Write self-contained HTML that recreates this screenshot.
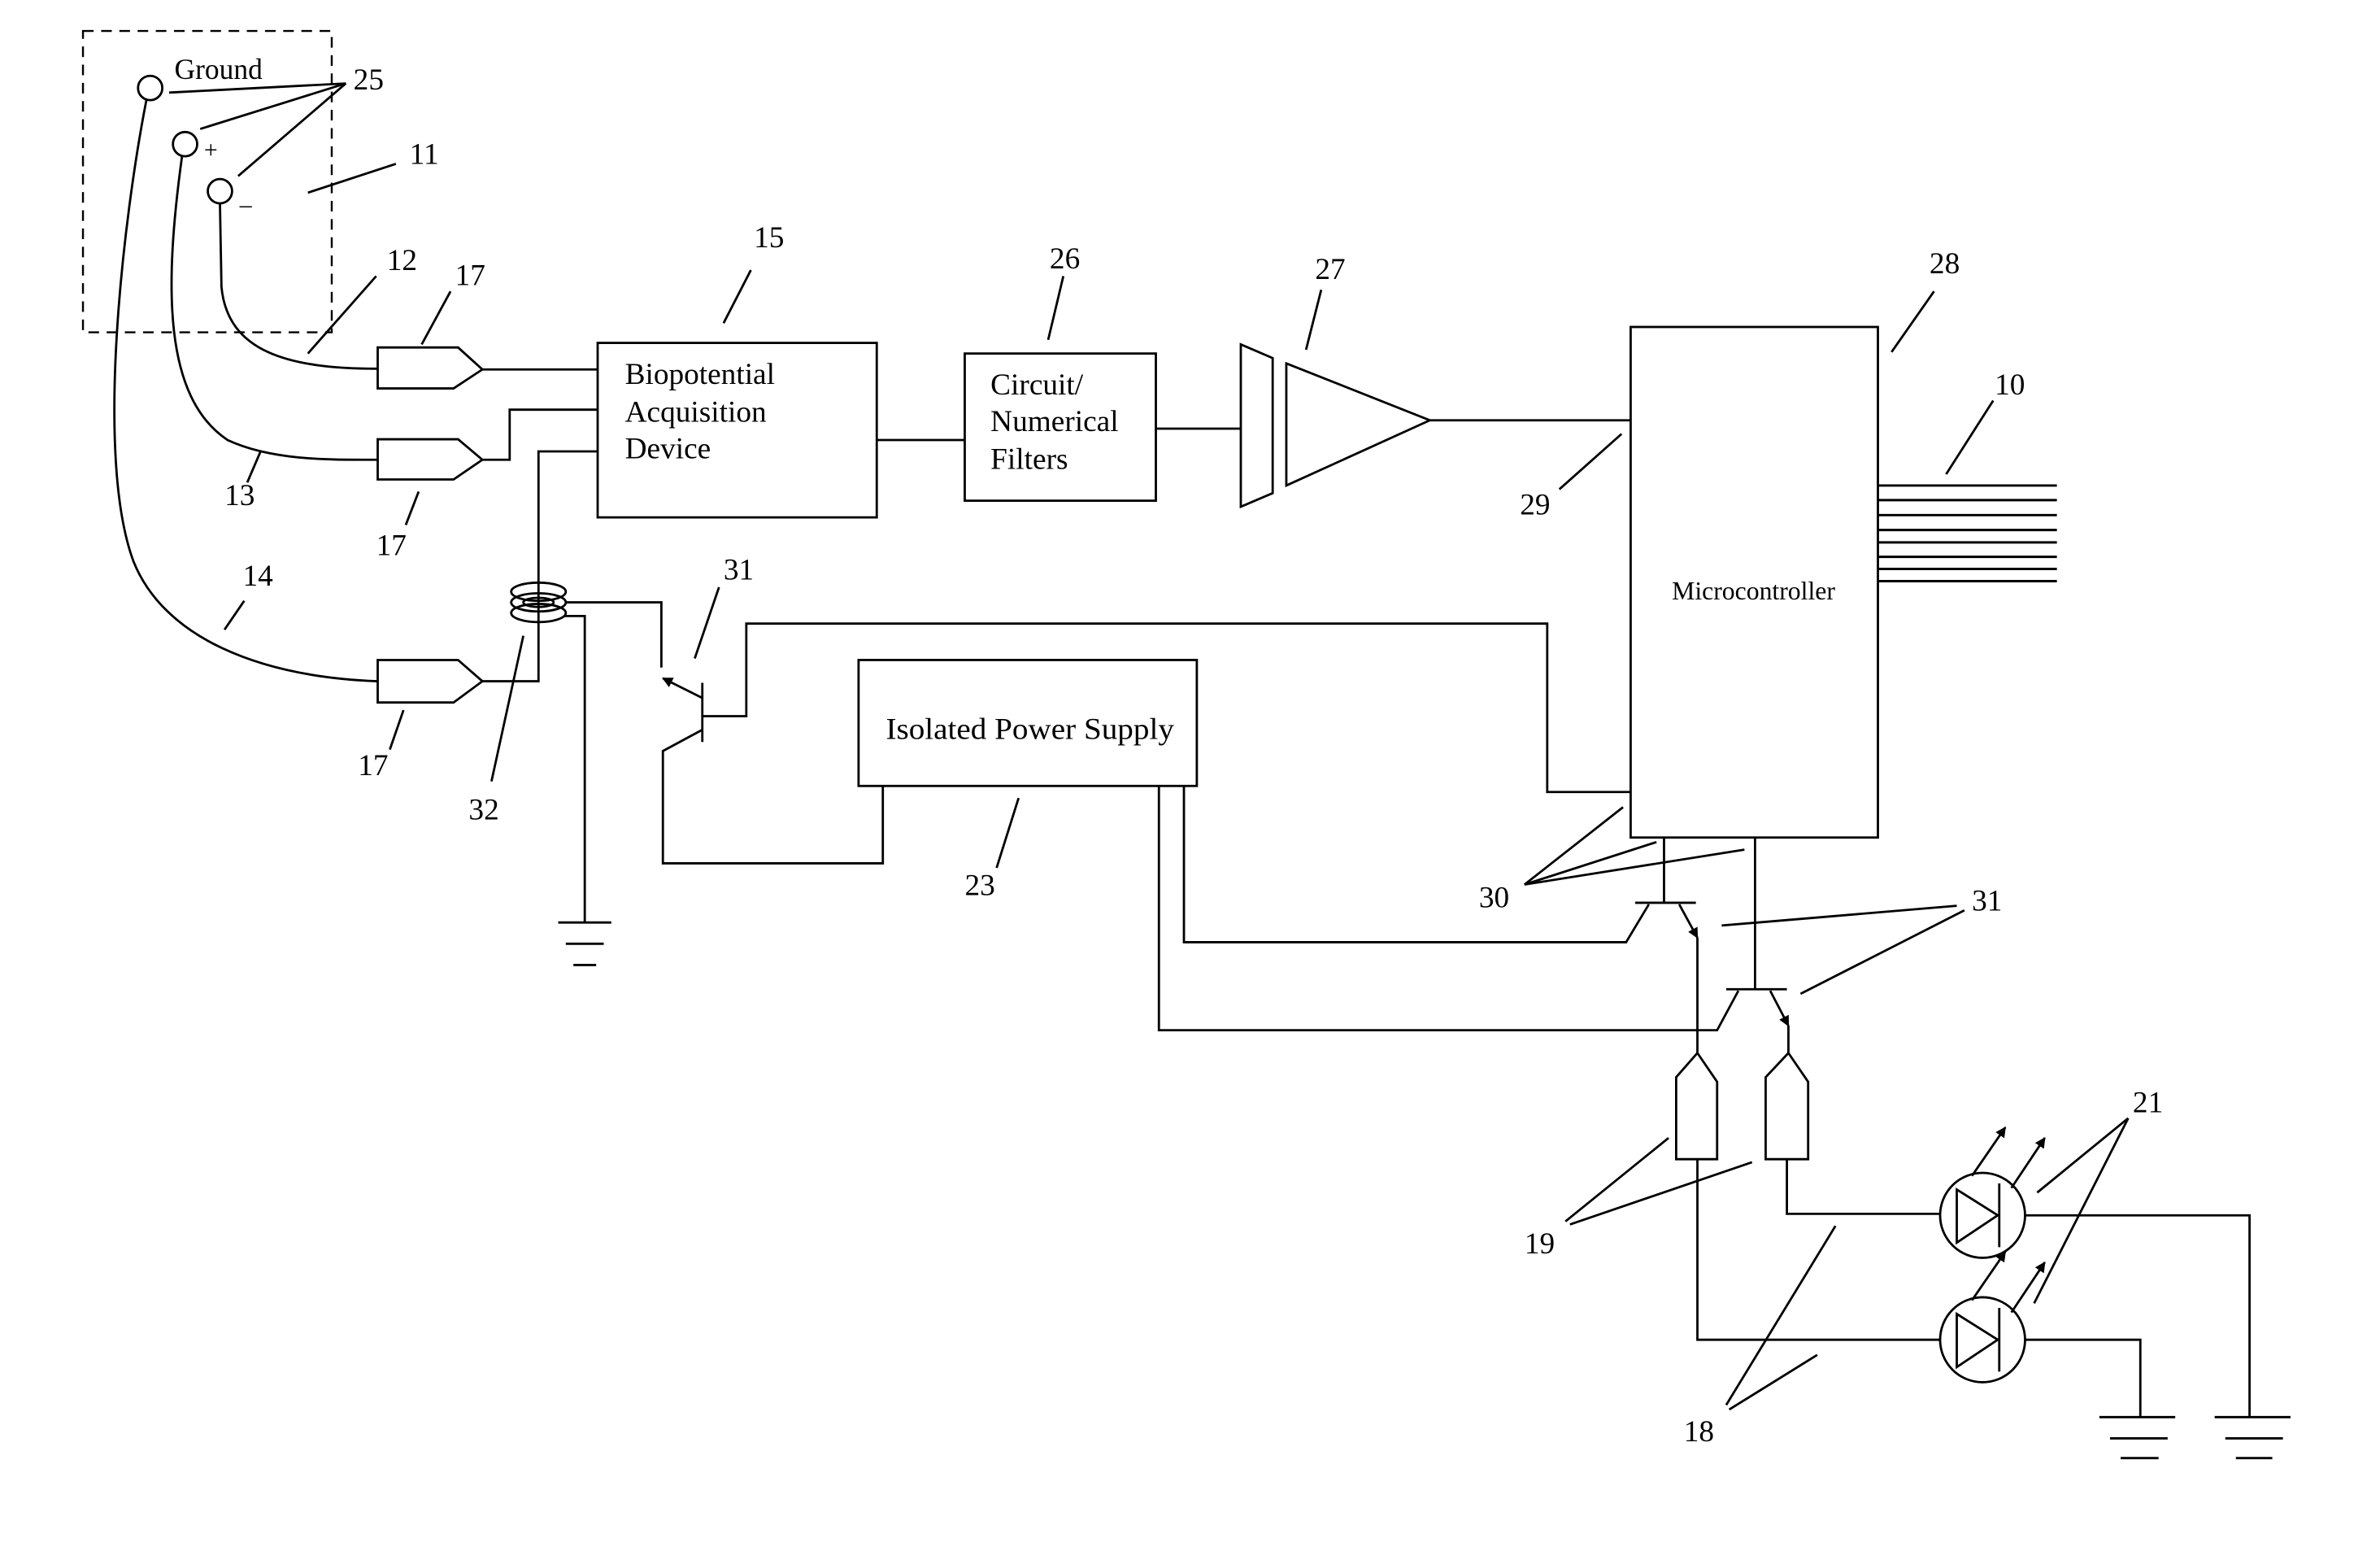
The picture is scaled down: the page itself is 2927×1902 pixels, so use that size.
<!DOCTYPE html>
<html><head><meta charset="utf-8"><style>
html,body{margin:0;padding:0;background:#fff}
svg{display:block}
text{font-family:"Liberation Serif",serif;fill:#000}
</style></head><body>
<svg width="2927" height="1902" viewBox="0 0 1569 1019.6" preserveAspectRatio="none" xmlns="http://www.w3.org/2000/svg">
<defs>
<marker id="ah" viewBox="0 0 10 10" refX="9" refY="5" markerWidth="7" markerHeight="7" orient="auto" markerUnits="userSpaceOnUse"><path d="M0,0 L10,5 L0,10 z" fill="#000"/></marker>
</defs>
<g fill="none" stroke="#000" stroke-width="1.5">
<rect x="54.7" y="20.4" width="164" height="198.6" stroke-dasharray="7,5" stroke-width="1.3"/>
<circle cx="99" cy="58" r="8"/>
<circle cx="122" cy="95" r="8"/>
<circle cx="145" cy="126" r="8"/>
<line x1="228" y1="55" x2="111.5" y2="61"/>
<line x1="228" y1="55" x2="132" y2="85"/>
<line x1="228" y1="55" x2="157" y2="116"/>
<line x1="261" y1="108" x2="203" y2="127"/>
<path d="M145,134 L146,189 C150,232 190,243 249,243"/>
<path d="M120,103 C108,190 108,262 150,290 C180,304 220,303 249,303"/>
<path d="M96.5,66 C82,140 62,300 88,370 C108,420 170,446 249,449"/>
<polygon points="249,229 302,229 318,243.5 299,256 249,256"/>
<polygon points="249,289.5 302,289.5 318,303 299,316 249,316"/>
<polygon points="249,435 302,435 318,449 299,463 249,463"/>
<line x1="248" y1="182" x2="203" y2="233"/>
<line x1="297" y1="192" x2="278" y2="227"/>
<line x1="276" y1="324" x2="267.5" y2="346"/>
<line x1="266" y1="468" x2="257" y2="494"/>
<line x1="163" y1="318" x2="172" y2="297"/>
<line x1="148" y1="415" x2="161" y2="396"/>
<line x1="345" y1="419" x2="324" y2="515"/>
<line x1="474" y1="387" x2="458" y2="434"/>
<line x1="477" y1="213" x2="495" y2="178"/>
<polyline points="318,243.5 394,243.5"/>
<polyline points="318,303 336,303 336,270 394,270"/>
<polyline points="318,449 355,449 355,297.5 394,297.5"/>
<ellipse cx="355" cy="390" rx="18" ry="6"/>
<ellipse cx="355" cy="397" rx="18" ry="6"/>
<ellipse cx="355" cy="404" rx="18" ry="6"/>
<ellipse cx="355" cy="397" rx="10" ry="3"/>
<polyline points="373,397 436,397 436,440"/>
<polyline points="372,406 385.5,406 385.5,608"/>
<line x1="368" y1="608" x2="403" y2="608"/>
<line x1="373" y1="622" x2="398" y2="622"/>
<line x1="378" y1="636" x2="393" y2="636"/>
<line x1="463" y1="450" x2="463" y2="489"/>
<line x1="463" y1="460" x2="437" y2="447" marker-end="url(#ah)"/>
<polyline points="463,481 437,495 437,569 582,569 582,518"/>
<polyline points="463,472 492,472 492,411 1020,411 1020,522 1075,522"/>
<rect x="394" y="226" width="184" height="115"/>
<line x1="578" y1="290" x2="636" y2="290"/>
<rect x="636" y="233" width="126" height="97"/>
<line x1="762" y1="282.5" x2="818" y2="282.5"/>
<line x1="701" y1="182" x2="691" y2="224"/>
<polygon points="818,227 839,236 839,325 818,334"/>
<polygon points="848,239.5 942.6,277 848,320"/>
<line x1="942.6" y1="277" x2="1075" y2="277"/>
<line x1="871" y1="191" x2="861" y2="230.5"/>
<line x1="1069" y1="286" x2="1028" y2="322.5"/>
<rect x="1075" y="215.5" width="163" height="336.5"/>
<line x1="1247" y1="232" x2="1275" y2="192"/>
<line x1="1314" y1="264" x2="1283" y2="312.5"/>
<g stroke-width="1.6">
<line x1="1238" y1="320" x2="1356" y2="320"/>
<line x1="1238" y1="329.6" x2="1356" y2="329.6"/>
<line x1="1238" y1="339.5" x2="1356" y2="339.5"/>
<line x1="1238" y1="349.3" x2="1356" y2="349.3"/>
<line x1="1238" y1="357.5" x2="1356" y2="357.5"/>
<line x1="1238" y1="367" x2="1356" y2="367"/>
<line x1="1238" y1="375" x2="1356" y2="375"/>
<line x1="1238" y1="383" x2="1356" y2="383"/>
</g>
<rect x="566" y="435" width="223" height="83"/>
<line x1="671.5" y1="526" x2="657" y2="572"/>
<polyline points="780.5,518 780.5,621 1072,621 1087,596"/>
<polyline points="764,518 764,679 1132,679 1146,653"/>
<line x1="1097" y1="552" x2="1097" y2="595"/>
<line x1="1078" y1="595" x2="1118" y2="595"/>
<line x1="1107" y1="596" x2="1119" y2="618" marker-end="url(#ah)"/>
<line x1="1119" y1="618" x2="1119" y2="694"/>
<line x1="1157" y1="552" x2="1157" y2="652"/>
<line x1="1138" y1="652" x2="1178" y2="652"/>
<line x1="1167" y1="653" x2="1179" y2="676" marker-end="url(#ah)"/>
<line x1="1179" y1="676" x2="1179" y2="694"/>
<line x1="1005" y1="583" x2="1070" y2="532"/>
<line x1="1005" y1="583" x2="1092" y2="555"/>
<line x1="1005" y1="583" x2="1150" y2="560"/>
<line x1="1290" y1="597" x2="1135" y2="610"/>
<line x1="1295" y1="600" x2="1187" y2="655"/>
<polygon points="1119,694 1132,713 1132,764 1105,764 1105,710"/>
<polygon points="1179,694 1192,713 1192,764 1164,764 1164,710"/>
<line x1="1032" y1="805" x2="1100" y2="750"/>
<line x1="1035" y1="807" x2="1155" y2="766"/>
<polyline points="1119,764 1119,883 1279,883"/>
<polyline points="1178,764 1178,800 1279,800"/>
<circle cx="1307" cy="801" r="28"/>
<circle cx="1307" cy="883" r="28"/>
<polygon points="1290,784 1317,801 1290,819"/>
<line x1="1318" y1="780" x2="1318" y2="822"/>
<polygon points="1290,866 1317,883 1290,901"/>
<line x1="1318" y1="862" x2="1318" y2="904"/>
<line x1="1300" y1="775" x2="1322" y2="743" marker-end="url(#ah)"/>
<line x1="1326" y1="783" x2="1348" y2="750" marker-end="url(#ah)"/>
<line x1="1300" y1="857" x2="1322" y2="825" marker-end="url(#ah)"/>
<line x1="1326" y1="865" x2="1348" y2="832" marker-end="url(#ah)"/>
<polyline points="1335,801 1483,801 1483,934"/>
<polyline points="1335,883 1411,883 1411,934"/>
<line x1="1460" y1="934" x2="1510" y2="934"/>
<line x1="1467" y1="948" x2="1505" y2="948"/>
<line x1="1474" y1="961" x2="1498" y2="961"/>
<line x1="1384" y1="934" x2="1434" y2="934"/>
<line x1="1391" y1="948" x2="1429" y2="948"/>
<line x1="1398" y1="961" x2="1423" y2="961"/>
<line x1="1403" y1="737" x2="1343" y2="786"/>
<line x1="1403" y1="737" x2="1341" y2="859"/>
<line x1="1138" y1="926" x2="1210" y2="808"/>
<line x1="1140" y1="929" x2="1198" y2="893"/>
</g>
<g font-size="20">
<text x="115" y="52" font-size="19">Ground</text>
<text x="139" y="104" font-size="16" text-anchor="middle">+</text>
<text x="162" y="140" font-size="16" text-anchor="middle">–</text>
<text x="233" y="59">25</text>
<text x="270" y="108">11</text>
<text x="255" y="178">12</text>
<text x="300" y="188">17</text>
<text x="248" y="366">17</text>
<text x="236" y="511">17</text>
<text x="148" y="333">13</text>
<text x="160" y="386">14</text>
<text x="309" y="540">32</text>
<text x="477" y="382">31</text>
<text x="497" y="163">15</text>
<text x="412" y="253">Biopotential</text>
<text x="412" y="278">Acquisition</text>
<text x="412" y="302">Device</text>
<text x="692" y="177">26</text>
<text x="653" y="260">Circuit/</text>
<text x="653" y="284">Numerical</text>
<text x="653" y="309">Filters</text>
<text x="867" y="184">27</text>
<text x="1002" y="339">29</text>
<text x="1272" y="180">28</text>
<text x="1315" y="260">10</text>
<text x="1156" y="395" font-size="17" text-anchor="middle">Microcontroller</text>
<text x="584" y="487" textLength="190" lengthAdjust="spacingAndGlyphs">Isolated Power Supply</text>
<text x="636" y="590">23</text>
<text x="975" y="598">30</text>
<text x="1300" y="600">31</text>
<text x="1005" y="826">19</text>
<text x="1110" y="950">18</text>
<text x="1406" y="733">21</text>
</g>
</svg>
</body></html>
